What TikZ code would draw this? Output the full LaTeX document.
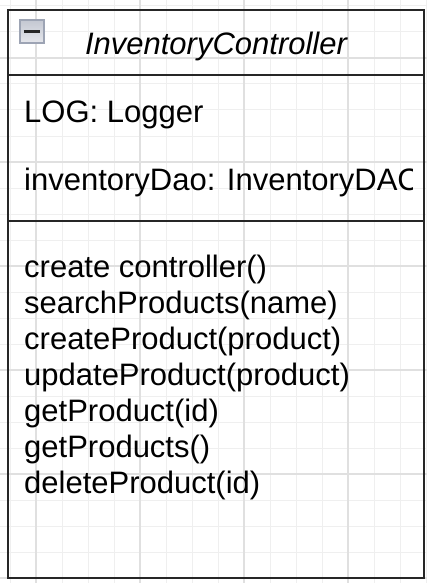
\documentclass[tikz,border=0pt]{standalone}
\usepackage{fontspec}
\setmainfont{Liberation Sans}
\definecolor{gridmin}{HTML}{EFEFEF}
\definecolor{gridmaj}{HTML}{E0E0E0}
\definecolor{umlline}{HTML}{262626}
\definecolor{togglerim}{HTML}{9DA4B4}
\definecolor{toggletop}{HTML}{C4C8D2}
\definecolor{togglebot}{HTML}{E6E7EC}
\begin{document}
\begin{tikzpicture}[
    x=1pt, y=-1pt,
    minorgrid/.style={draw=gridmin, line width=1pt},
    majorgrid/.style={draw=gridmaj, line width=1.2pt},
    classbox/.style={draw=umlline, line width=2.6pt, minimum width=416pt, minimum height=568pt, inner sep=0pt},
    divider/.style={draw=umlline, line width=2.6pt},
    classname/.style={anchor=base, inner sep=0pt, font=\fontsize{31}{36}\selectfont\itshape},
    member/.style={anchor=base west, inner sep=0pt, font=\fontsize{31}{36}\selectfont},
    toggle/.style={draw=togglerim, line width=1.6pt, top color=toggletop, bottom color=togglebot, minimum width=24pt, minimum height=23pt, inner sep=0pt}
]

% Canvas
\fill[white] (0,0) rectangle (427,583);
\useasboundingbox (0,0) rectangle (427,583);
\draw[minorgrid, step=26pt, shift={(10,6)}] (-10,-6) grid (417,577);
\draw[majorgrid, step=104pt, shift={(36,58)}] (-36,-58) grid (391,525);

% Class
\node[classbox] (cls) at (216,294) {};
\draw[divider] (8,75) -- (424,75);
\draw[divider] (8,221) -- (424,221);

% Header
\node[toggle] (fold) at (31.8,31.7) {};
\draw[line width=2.6pt, umlline] ([xshift=-8pt]fold.center) -- ([xshift=8pt]fold.center);
\node[classname] (title) at (216,55) {InventoryController};

% Attributes
\node[member] (log) at (24,122) {LOG: Logger};
\begin{scope}
  \clip (8,148) rectangle (412,221);
  \node[member] (dao) at (24,190) {inventoryDao: InventoryDAC};
\end{scope}

% Operations
\node[member] (op1) at (24,277) {create controller()};
\node[member] (op2) at (24,313) {searchProducts(name)};
\node[member] (op3) at (24,349) {createProduct(product)};
\node[member] (op4) at (24,385) {updateProduct(product)};
\node[member] (op5) at (24,421) {getProduct(id)};
\node[member] (op6) at (24,457) {getProducts()};
\node[member] (op7) at (24,493) {deleteProduct(id)};

\end{tikzpicture}
\end{document}
